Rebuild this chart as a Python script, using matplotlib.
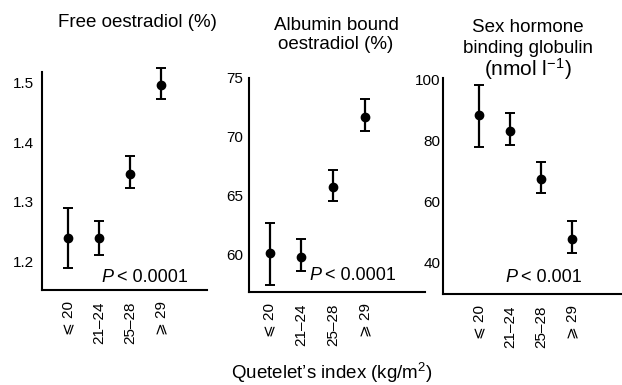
import matplotlib
matplotlib.use("Agg")
import matplotlib.pyplot as plt

plt.rcParams['font.family'] = ['Liberation Sans', 'DejaVu Sans']
plt.rcParams['mathtext.fontset'] = 'custom'
plt.rcParams['mathtext.rm'] = 'Liberation Sans'
plt.rcParams['mathtext.it'] = 'Liberation Sans:italic'

categories = ['⩽ 20', '21–24', '25–28', '⩾ 29']

free_mean = [1.24, 1.24, 1.347, 1.495]
free_low = [1.19, 1.212, 1.323, 1.472]
free_high = [1.29, 1.268, 1.377, 1.523]

alb_mean = [60.1, 59.8, 65.7, 71.7]
alb_low = [57.4, 58.6, 64.5, 70.5]
alb_high = [62.7, 61.3, 67.2, 73.2]

shbg_mean = [88.5, 83.3, 67.2, 47.5]
shbg_low = [78.0, 78.7, 62.6, 43.0]
shbg_high = [98.4, 89.2, 73.1, 53.4]

title_lines = [['Free oestradiol (%)'],
               ['Albumin bound', 'oestradiol (%)'],
               ['Sex hormone', 'binding globulin', '(nmol l$^{-1}$)']]
p_texts = ['< 0.0001', '< 0.0001', '< 0.001']
yticks = [[1.2, 1.3, 1.4, 1.5], [60, 65, 70, 75], [40, 60, 80, 100]]
yticklabels = [['1.2', '1.3', '1.4', '1.5'], ['60', '65', '70', '75'], ['40', '60', '80', '100']]
xlabel = 'Quetelet\u2019s index (kg/m$^{2}$)'

fig = plt.figure(figsize=(6.22, 3.85), dpi=100)
W, H = 622, 385

# (left, right, top, bottom) in pixels
boxes = [(42, 207, 72, 290), (249, 425, 78, 292), (443, 622, 78, 294)]
ylims = [(1.153, 1.517), (56.8, 75.0), (29.5, 100.6)]
xlims = [(-0.85, 4.5), (-0.65, 4.9), (-1.15, 4.6)]
ypads = [6.0, 4.0, 2.0]
data = [(free_mean, free_low, free_high), (alb_mean, alb_low, alb_high), (shbg_mean, shbg_low, shbg_high)]
p_pos = [(101, 277), (309, 275), (505, 277)]
title_x = [137, 336, 528]
title_base = [[27], [30, 49], [32, 53, 76]]
title_size = [[13.5], [13.5, 13.5], [13.5, 13.5, 15]]

for i in range(3):
    l, r, t, b = boxes[i]
    ax = fig.add_axes([l / W, (H - b) / H, (r - l) / W, (b - t) / H])
    m, lo, hi = data[i]
    x = list(range(len(categories)))
    yerr = [[mm - ll for mm, ll in zip(m, lo)], [hh - mm for mm, hh in zip(m, hi)]]
    ax.errorbar(x, m, yerr=yerr, fmt='o', color='black', markersize=6,
                elinewidth=1.6, capsize=3.5, capthick=1.4, clip_on=False)
    ax.set_xlim(*xlims[i])
    ax.set_ylim(*ylims[i])
    for s in ['top', 'right']:
        ax.spines[s].set_visible(False)
    for s in ['left', 'bottom']:
        ax.spines[s].set_linewidth(1.5)
    ax.set_xticks(x)
    ax.set_xticklabels(categories, rotation=90, fontsize=11)
    ax.set_yticks(yticks[i])
    ax.set_yticklabels(yticklabels[i], fontsize=11)
    ax.tick_params(axis='y', length=0, pad=ypads[i])
    ax.tick_params(axis='x', length=0, pad=8)
    fig.text(p_pos[i][0] / W, 1 - p_pos[i][1] / H, '$P$', fontsize=13,
             style='italic', va='center', ha='left')
    fig.text((p_pos[i][0] + 16) / W, 1 - p_pos[i][1] / H, p_texts[i], fontsize=13,
             va='center', ha='left')
    for line, yb, fs in zip(title_lines[i], title_base[i], title_size[i]):
        fig.text(title_x[i] / W, 1 - yb / H, line, fontsize=fs, ha='center', va='baseline')

fig.text(332 / W, 1 - 379 / H, xlabel, fontsize=13.5, ha='center', va='baseline')

fig.savefig('out.png', dpi=100)
